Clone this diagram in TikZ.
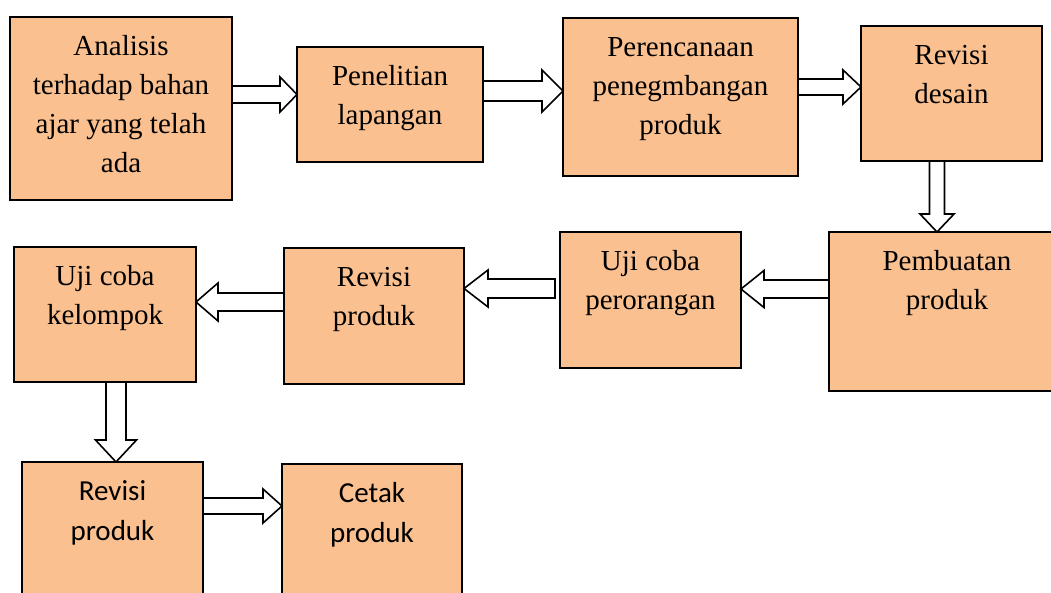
\documentclass[tikz,border=0pt]{standalone}
\usepackage{fontspec}
\setmainfont{Liberation Serif}
\newfontfamily\calfont{Carlito}
\usetikzlibrary{calc}
\definecolor{boxfill}{HTML}{FAC090}
\tikzset{
  box/.style={draw=black, line width=1.8pt, fill=boxfill, inner sep=0pt, outer sep=0pt,
    font=\fontsize{29}{39}\selectfont},
  calbox/.style={font=\calfont\fontsize{29}{40}\selectfont},
  barrow/.style={draw=black, line width=1.6pt, fill=white, line join=miter}
}
% block arrows: from, to, centre (y or x), shaft half, head half, head length
\newcommand\arrR[6]{\draw[barrow] let \p1=(#1),\p2=(#2),\p3=(0,#3) in
  (\x1,{\y3+#4pt}) -- ({\x2-#6pt},{\y3+#4pt}) -- ({\x2-#6pt},{\y3+#5pt}) -- (\x2,\y3)
  -- ({\x2-#6pt},{\y3-#5pt}) -- ({\x2-#6pt},{\y3-#4pt}) -- (\x1,{\y3-#4pt}) -- cycle;}
\newcommand\arrL[6]{\draw[barrow] let \p1=(#1),\p2=(#2),\p3=(0,#3) in
  (\x1,{\y3+#4pt}) -- ({\x2+#6pt},{\y3+#4pt}) -- ({\x2+#6pt},{\y3+#5pt}) -- (\x2,\y3)
  -- ({\x2+#6pt},{\y3-#5pt}) -- ({\x2+#6pt},{\y3-#4pt}) -- (\x1,{\y3-#4pt}) -- cycle;}
\newcommand\arrD[6]{\draw[barrow] let \p1=(#1),\p2=(#2),\p3=(#3,0) in
  ({\x3-#4pt},\y1) -- ({\x3-#4pt},{\y2+#6pt}) -- ({\x3-#5pt},{\y2+#6pt}) -- (\x3,\y2)
  -- ({\x3+#5pt},{\y2+#6pt}) -- ({\x3+#4pt},{\y2+#6pt}) -- ({\x3+#4pt},\y1) -- cycle;}
\begin{document}
\begin{tikzpicture}[x=1pt,y=-1pt]
\useasboundingbox (0,0) rectangle (1051,593);
\clip (0,0) rectangle (1051,593);
\node[box, anchor=north west] (n1) at (10,17)
  {\parbox[c][183pt][t]{222pt}{\centering\vspace*{\dimexpr38.5pt-\ht\strutbox\relax}\strut Analisis\\terhadap bahan\\ajar yang telah\\ada}};
\node[box, anchor=north west] (n2) at (297,47)
  {\parbox[c][115pt][t]{186pt}{\centering\vspace*{\dimexpr38.5pt-\ht\strutbox\relax}\strut Penelitian\\lapangan}};
\node[box, anchor=north west] (n3) at (563,18)
  {\parbox[c][158pt][t]{235pt}{\centering\vspace*{\dimexpr38.5pt-\ht\strutbox\relax}\strut Perencanaan\\penegmbangan\\produk}};
\node[box, anchor=north west] (n4) at (861,26)
  {\parbox[c][135pt][t]{181pt}{\centering\vspace*{\dimexpr38.5pt-\ht\strutbox\relax}\strut Revisi\\desain}};
\node[box, anchor=north west] (n5) at (829,232)
  {\parbox[c][159pt][t]{236pt}{\centering\vspace*{\dimexpr38.5pt-\ht\strutbox\relax}\strut Pembuatan\\produk}};
\node[box, anchor=north west] (n6) at (560,232)
  {\parbox[c][136pt][t]{181pt}{\centering\vspace*{\dimexpr38.5pt-\ht\strutbox\relax}\strut Uji coba\\perorangan}};
\node[box, anchor=north west] (n7) at (284,248)
  {\parbox[c][136pt][t]{180pt}{\centering\vspace*{\dimexpr38.5pt-\ht\strutbox\relax}\strut Revisi\\produk}};
\node[box, anchor=north west] (n8) at (14,247)
  {\parbox[c][135pt][t]{182pt}{\centering\vspace*{\dimexpr38.5pt-\ht\strutbox\relax}\strut Uji coba\\kelompok}};
\node[box, calbox, anchor=north west] (n9) at (22,462)
  {\parbox[c][160pt][t]{181pt}{\centering\vspace*{\dimexpr38pt-\ht\strutbox\relax}\strut Revisi\\produk}};
\node[box, calbox, anchor=north west] (n10) at (282,464)
  {\parbox[c][160pt][t]{180pt}{\centering\vspace*{\dimexpr38pt-\ht\strutbox\relax}\strut Cetak\\produk}};
\coordinate (a6s) at (555,289);
\arrR{n1.east}{n2.west}{94.5}{8.5}{17.5}{17}
\arrR{n2.east}{n3.west}{91}{10}{21}{21}
\arrR{n3.east}{n4.west}{87}{8}{17}{18}
\arrD{n4.south}{n5.north}{937}{7.5}{17}{18}
\arrL{n5.west}{n6.east}{289}{9}{18.5}{23}
\arrL{a6s}{n7.east}{288.5}{9.5}{18.5}{24}
\arrL{n7.west}{n8.east}{302}{9}{19}{22}
\arrD{n8.south}{n9.north}{116}{10}{20.5}{22}
\arrR{n9.east}{n10.west}{506}{8}{17}{19}
\end{tikzpicture}
\end{document}
